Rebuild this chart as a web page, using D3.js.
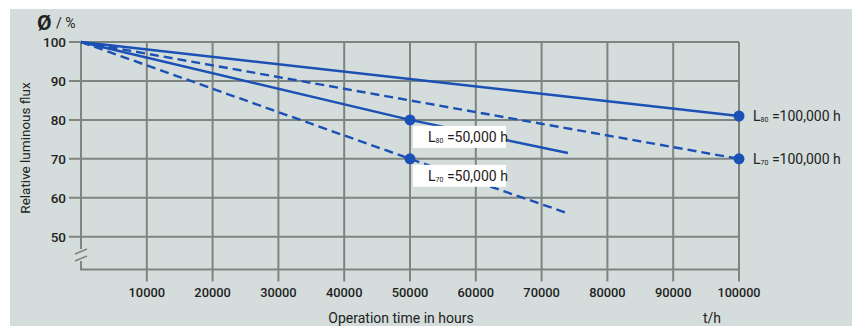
<!DOCTYPE html>
<html>
<head>
<meta charset="utf-8">
<script src="https://cdn.jsdelivr.net/npm/d3@7"></script>
<style>
  html, body { margin: 0; padding: 0; background: #ffffff; }
  svg { display: block; }
  text { font-family: Roboto, "DejaVu Sans Condensed", sans-serif; fill: #222; }
</style>
</head>
<body>
<svg id="chart" width="852" height="326"></svg>
<script>
// Operation time ticks (hours) and flux ticks (%)
const xTicks = [10000, 20000, 30000, 40000, 50000, 60000, 70000, 80000, 90000, 100000];
const yTicks = [50, 60, 70, 80, 90, 100];

// Degradation curves: [hours, relative flux %]
const l80Long = [[0, 100], [100000, 81]];
const l70Long = [[0, 100], [100000, 70]];
const l80Short = [[0, 100], [50000, 80], [74000, 71.5]];
const l70Short = [[0, 100], [50000, 70], [74000, 56]];

// Marked lifetime points
const markers = [
  { t: 50000, v: 80, sub: "80", text: "=50,000 h", side: "below" },
  { t: 50000, v: 70, sub: "70", text: "=50,000 h", side: "below" },
  { t: 100000, v: 81, sub: "80", text: "=100,000 h", side: "right" },
  { t: 100000, v: 70, sub: "70", text: "=100,000 h", side: "right" }
];

const svg = d3.select("#chart");
const blue = "#1b50b4";
const grid = "#7d8580";

// panel background
svg.append("rect").attr("x", 10).attr("y", 9).attr("width", 842).attr("height", 317).attr("fill", "#d4dddb");

const x = d3.scaleLinear().domain([0, 100000]).range([81, 739]);
const y = d3.scaleLinear().domain([50, 100]).range([236.7, 42]);
const yBottom = 269.5;

const g = svg.append("g");

// vertical grid lines with ticks below the axis
g.selectAll("line.vg").data(xTicks).join("line")
  .attr("x1", d => x(d)).attr("x2", d => x(d))
  .attr("y1", y(100)).attr("y2", yBottom + 12)
  .attr("stroke", grid).attr("stroke-width", 2);

// horizontal grid lines with ticks left of the axis
g.selectAll("line.hg").data(yTicks).join("line")
  .attr("x1", x(0) - 12).attr("x2", x(100000))
  .attr("y1", d => y(d)).attr("y2", d => y(d))
  .attr("stroke", grid).attr("stroke-width", 2);

// left axis with a break, and the bottom axis
g.append("line").attr("x1", x(0)).attr("x2", x(0)).attr("y1", y(100)).attr("y2", 249)
  .attr("stroke", grid).attr("stroke-width", 2);
g.append("polyline").attr("points", `${x(0)},261 ${x(0)},${yBottom} ${x(100000)},${yBottom}`)
  .attr("fill", "none").attr("stroke", grid).attr("stroke-width", 2);
// break marks
g.append("line").attr("x1", x(0) - 6).attr("y1", 254).attr("x2", x(0) + 6).attr("y2", 249)
  .attr("stroke", grid).attr("stroke-width", 1.6);
g.append("line").attr("x1", x(0) - 6).attr("y1", 261).attr("x2", x(0) + 6).attr("y2", 256)
  .attr("stroke", grid).attr("stroke-width", 1.6);

// tick labels
g.selectAll("text.xt").data(xTicks).join("text")
  .attr("x", d => x(d)).attr("y", 297)
  .attr("text-anchor", "middle").attr("font-size", 13.5).attr("font-weight", 500)
  .attr("textLength", d => d === 100000 ? 43 : 36.5).attr("lengthAdjust", "spacingAndGlyphs")
  .text(d => d);
g.selectAll("text.yt").data(yTicks).join("text")
  .attr("x", 66).attr("y", d => y(d) + 5)
  .attr("text-anchor", "end").attr("font-size", 13.5).attr("font-weight", 500)
  .text(d => d);

// axis titles
svg.append("text").attr("x", 37).attr("y", 30).attr("font-size", 21).attr("font-weight", 700).text("Ø");
svg.append("text").attr("x", 56).attr("y", 28).attr("font-size", 14).text("/ %");
svg.append("text").attr("transform", "translate(30,148) rotate(-90)")
  .attr("text-anchor", "middle").attr("font-size", 13.5).text("Relative luminous flux");
svg.append("text").attr("x", 401).attr("y", 323).attr("text-anchor", "middle")
  .attr("font-size", 14).text("Operation time in hours");
svg.append("text").attr("x", 712).attr("y", 323).attr("text-anchor", "middle")
  .attr("font-size", 14).text("t/h");

// curves
const line = d3.line().x(d => x(d[0])).y(d => y(d[1]));
const curves = [
  { data: l80Long, dash: null },
  { data: l70Long, dash: "9,5" },
  { data: l80Short, dash: null },
  { data: l70Short, dash: "9,5" }
];
g.selectAll("path.curve").data(curves).join("path")
  .attr("d", d => line(d.data)).attr("fill", "none")
  .attr("stroke", blue).attr("stroke-width", 2.4)
  .attr("stroke-dasharray", d => d.dash);

// label boxes for the 50,000 h markers
const below = markers.filter(m => m.side === "below");
g.selectAll("rect.lb").data(below).join("rect")
  .attr("x", d => x(d.t) + 3).attr("y", d => y(d.v) + 6)
  .attr("width", 93).attr("height", 22).attr("fill", "#ffffff");

// marker dots
g.selectAll("circle.m").data(markers).join("circle")
  .attr("cx", d => x(d.t)).attr("cy", d => y(d.v)).attr("r", 5.5).attr("fill", blue);

// marker labels: L with subscript, then value
const lbl = g.selectAll("text.ml").data(markers).join("text")
  .attr("x", d => d.side === "right" ? x(d.t) + 14 : x(d.t) + 18)
  .attr("y", d => d.side === "right" ? y(d.v) + 5 : y(d.v) + 22)
  .attr("font-size", 14);
lbl.append("tspan").text("L");
lbl.append("tspan").attr("font-size", 7).attr("dy", 1).text(d => d.sub);
lbl.append("tspan").attr("dy", -1).text(d => " " + d.text);
</script>
</body>
</html>
